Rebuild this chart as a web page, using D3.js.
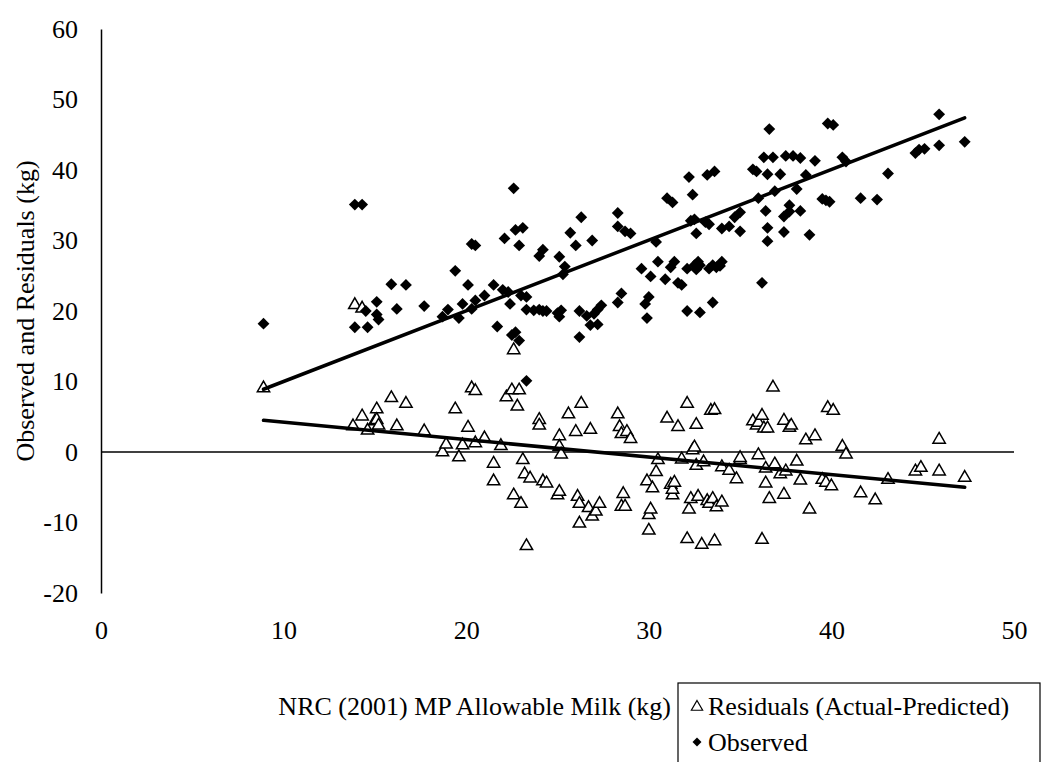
<!DOCTYPE html>
<html><head><meta charset="utf-8">
<script src="https://cdn.jsdelivr.net/npm/d3@7"></script>
<style>
body{margin:0;background:#fff;}
text{font-family:"Liberation Serif","Times New Roman",serif;fill:#000;}
</style></head>
<body><svg id="c" width="1043" height="762"></svg>
<script>
const xTicks=[0,10,20,30,40,50];
const yTicks=[-20,-10,0,10,20,30,40,50,60];
const xTitle="NRC (2001) MP Allowable Milk (kg)";
const yTitle="Observed and Residuals (kg)";
const seriesNames=["Residuals (Actual-Predicted)","Observed"];

const obsX=[8.9,13.9,14.3,13.9,14.6,14.5,15.1,15.1,15.2,15.9,16.2,16.7,17.7,18.7,19.0,19.4,19.6,19.8,20.1,20.3,20.5,20.5,20.3,21.0,21.5,21.7,22.0,22.3,22.1,22.4,22.5,22.7,22.6,22.7,22.9,23.1,22.9,23.0,23.3,23.3,23.3,23.7,24.0,24.2,24.4,24.0,24.2,25.0,25.2,25.1,25.1,25.3,25.4,25.7,26.0,26.2,26.3,26.2,26.6,26.8,27.0,27.2,26.9,27.2,27.4,28.3,28.3,28.5,28.3,28.7,29.0,29.6,29.8,29.9,30.0,30.1,30.4,30.5,30.9,31.0,31.3,31.2,31.4,31.6,31.8,32.1,32.2,32.3,32.5,32.4,32.1,32.5,32.6,32.8,32.7,32.6,32.8,33.1,33.3,33.2,33.6,33.3,33.5,33.7,33.9,34.0,33.5,34.0,34.4,34.7,35.0,35.0,35.7,35.9,36.0,36.2,36.3,36.6,36.4,36.5,36.5,36.5,36.8,36.9,37.2,37.5,37.4,37.4,37.7,37.7,37.9,38.1,38.3,38.3,38.6,38.8,39.1,39.5,39.7,39.8,40.1,39.9,40.6,40.8,41.6,42.5,43.1,44.6,44.8,45.1,45.9,45.9,47.3];
const obsY=[18.2,35.1,35.1,17.7,17.7,20.0,21.3,19.5,18.8,23.8,20.3,23.7,20.7,19.2,20.2,25.7,19.0,21.0,23.7,29.5,29.3,21.5,20.3,22.2,23.7,17.8,23.0,22.7,30.3,21.0,16.6,17.0,37.4,31.5,29.3,31.8,15.8,22.2,22.0,20.2,10.1,20.1,20.2,20.0,20.0,27.8,28.7,19.7,20.1,19.2,27.7,25.2,26.3,31.1,29.3,20.0,33.3,16.3,19.3,18.0,19.6,18.1,30.0,20.2,20.8,33.9,32.0,22.5,21.2,31.3,31.0,26.0,21.0,19.0,22.0,24.9,29.8,27.0,24.5,36.0,35.4,26.2,27.0,24.0,23.7,26.0,39.0,32.8,33.0,36.5,20.0,26.5,25.9,26.5,27.0,31.0,19.8,32.6,32.3,39.3,39.8,26.0,26.5,26.2,26.4,27.0,21.2,31.7,32.0,33.3,34.0,31.3,40.1,39.8,36.0,24.0,41.8,45.8,34.2,31.8,29.9,39.4,41.8,37.0,39.4,42.0,31.2,33.4,34.1,35.0,42.0,37.3,41.7,34.2,39.3,30.8,41.3,35.9,35.7,46.6,46.4,35.5,41.8,41.2,36.0,35.8,39.5,42.4,42.9,43.0,43.5,47.9,44.0];

const resX=[8.9,13.9,14.3,13.8,14.3,14.6,15.0,15.1,15.1,15.2,15.9,16.2,16.7,17.7,18.7,18.9,19.4,19.6,19.8,20.1,20.3,20.5,20.5,21.0,21.5,21.5,21.9,22.2,22.5,22.6,22.8,22.6,22.9,23.0,23.1,23.2,23.3,23.5,24.0,24.0,24.2,24.4,25.0,25.1,25.1,25.1,25.2,25.6,26.0,26.1,26.2,26.3,26.2,26.7,26.8,26.9,27.1,27.3,28.3,28.4,28.5,28.6,28.5,28.7,28.8,29.0,29.9,30.0,30.0,30.1,30.2,30.4,30.5,31.0,31.2,31.3,31.3,31.4,31.6,31.8,32.1,32.2,32.3,32.1,32.4,32.5,32.6,32.6,32.7,32.9,33.0,33.2,33.3,33.4,33.6,33.5,33.7,33.6,34.0,34.0,34.4,34.8,35.0,35.0,35.7,35.9,36.0,36.0,36.2,36.2,36.3,36.4,36.4,36.5,36.6,36.8,36.9,37.2,37.4,37.5,37.4,37.7,37.8,38.1,38.3,38.6,38.8,39.1,39.5,39.7,39.8,40.0,40.1,40.6,40.8,41.6,42.4,43.1,44.6,44.9,45.9,45.9,47.3];
const resY=[9.2,21.0,20.5,3.8,5.2,3.2,4.5,6.2,4.7,3.9,7.8,3.8,7.0,3.1,0.1,1.2,6.2,-0.6,1.1,3.6,9.2,8.8,1.4,2.1,-1.5,-4.0,1.0,7.9,8.9,-6.0,6.6,14.6,8.9,-7.2,-1.0,-3.0,-13.2,-3.6,4.7,3.9,-4.0,-4.3,-6.0,-5.5,2.4,0.9,-0.2,5.5,3.0,-6.2,-7.2,7.0,-10.0,-7.8,3.3,-9.0,-8.3,-7.2,5.5,3.7,2.7,-5.8,-7.6,-7.6,3.0,2.0,-4.0,-8.8,-11.0,-8.0,-5.0,-2.7,-1.0,4.9,-4.5,-6.0,-5.2,-4.2,3.7,-0.9,7.0,-8.0,-6.5,-12.2,0.4,0.8,4.0,-1.8,-6.2,-13.0,-1.3,-6.8,-7.2,6.0,-12.5,-6.5,-7.7,6.1,-7.0,-2.0,-2.5,-3.7,-1.0,-0.7,4.5,3.9,4.3,-0.3,5.3,-12.3,3.5,-2.2,-4.3,3.5,-6.5,9.3,-1.6,-3.0,4.6,-2.6,-5.9,3.6,3.9,-1.2,-3.9,1.8,-8.0,2.4,-3.8,-4.2,6.4,-4.7,6.0,0.9,-0.2,-5.7,-6.7,-3.8,-2.6,-2.1,-2.6,1.9,-3.5];

const trendX=[8.9,47.3];
const obsTrendY=[8.9,47.4];
const resTrendY=[4.5,-5.0];

const svg=d3.select("#c");
const x=d3.scaleLinear().domain([0,50]).range([101,1014]);
const y=d3.scaleLinear().domain([-20,60]).range([593,29]);
const FS=26;

const ya=svg.append("g").attr("transform",`translate(${x(0)},0)`)
  .call(d3.axisLeft(y).tickValues(yTicks).tickSize(0).tickPadding(23).tickFormat(d3.format("d")));
ya.select(".domain").attr("stroke","#000").attr("stroke-width",1.5);
ya.selectAll("text").attr("font-size",FS).attr("font-family","Liberation Serif").text(d=>String(d));

svg.append("line").attr("x1",x(0)).attr("x2",x(50)).attr("y1",y(0)).attr("y2",y(0))
  .attr("stroke","#000").attr("stroke-width",1.5);
const xa=svg.append("g").attr("transform",`translate(0,${y(-20)})`)
  .call(d3.axisBottom(x).tickValues(xTicks).tickSize(0).tickPadding(28).tickFormat(d3.format("d")));
xa.select(".domain").remove();
xa.selectAll("text").attr("font-size",FS).attr("font-family","Liberation Serif");

svg.append("text").attr("transform",`translate(25,${(y(60)+y(-20))/2}) rotate(-90)`)
  .attr("text-anchor","middle").attr("dominant-baseline","central").attr("font-size",FS).text(yTitle);
svg.append("text").attr("x",671).attr("y",706).attr("text-anchor","end")
  .attr("dominant-baseline","central").attr("font-size",FS).text(xTitle);

const tri=d3.symbol().type(d3.symbolTriangle).size(66);
svg.append("g").selectAll("path").data(resX.map((v,i)=>[v,resY[i]])).join("path")
  .attr("d",tri).attr("transform",d=>`translate(${x(d[0])},${y(d[1])+1})`)
  .attr("fill","#fff").attr("stroke","#000").attr("stroke-width",1.5);
const dia=d3.symbol().type(d3.symbolSquare).size(70);
svg.append("g").selectAll("path").data(obsX.map((v,i)=>[v,obsY[i]])).join("path")
  .attr("d",dia).attr("transform",d=>`translate(${x(d[0])},${y(d[1])}) rotate(45)`)
  .attr("fill","#000");

const ln=d3.line().x(d=>x(d[0])).y(d=>y(d[1]));
[obsTrendY,resTrendY].forEach(ty=>{
  svg.append("path").attr("d",ln(trendX.map((v,i)=>[v,ty[i]])))
    .attr("stroke","#000").attr("stroke-width",3.5).attr("fill","none").attr("stroke-linecap","round");
});

const lg=svg.append("g");
lg.append("rect").attr("x",678).attr("y",683).attr("width",362).attr("height",100)
  .attr("fill","#fff").attr("stroke","#000").attr("stroke-width",1.2);
const legY=[706,742];
lg.append("path").attr("d",d3.symbol().type(d3.symbolTriangle).size(55))
  .attr("transform",`translate(697,${legY[0]+1})`).attr("fill","#fff").attr("stroke","#000").attr("stroke-width",1.2);
lg.append("path").attr("d",d3.symbol().type(d3.symbolSquare).size(40))
  .attr("transform",`translate(697,${legY[1]}) rotate(45)`).attr("fill","#000");
seriesNames.forEach((s,i)=>{
  lg.append("text").attr("x",708).attr("y",legY[i]).attr("dominant-baseline","central")
    .attr("font-size",FS).text(s);
});
</script></body></html>
